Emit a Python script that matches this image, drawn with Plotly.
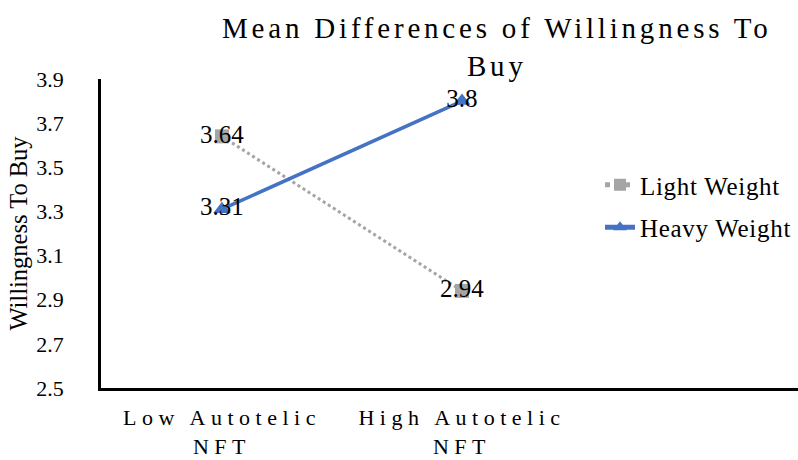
import plotly.graph_objects as go

categories = ["Low Autotelic<br>NFT", "High Autotelic<br>NFT"]
light_weight = [3.64, 2.94]
heavy_weight = [3.31, 3.8]
y_ticks = [2.5, 2.7, 2.9, 3.1, 3.3, 3.5, 3.7, 3.9]

SERIF = "Liberation Serif, Times New Roman, serif"
x_pos = list(range(len(categories)))


def spaced(s, px=3):
    return "<br>".join(f"<span style='letter-spacing:{px}px'>{part}</span>" for part in s.split("<br>"))


fig = go.Figure()
fig.add_trace(go.Scatter(
    x=x_pos, y=light_weight, name=spaced("Light Weight", 0.7), legendgroup="light",
    mode="lines+markers+text",
    line=dict(color="#A5A5A5", width=3, dash="dot"),
    marker=dict(symbol="square", size=14, color="#A5A5A5"),
    text=[f"{v:g}" for v in light_weight], textposition="middle center",
    textfont=dict(family=SERIF, size=25, color="black"),
))
fig.add_trace(go.Scatter(
    x=x_pos, y=heavy_weight, name=spaced("Heavy Weight", 0.7), legendgroup="heavy",
    mode="lines+markers+text",
    line=dict(color="#4472C4", width=3.5),
    marker=dict(symbol="triangle-up", size=15, color="#4472C4"),
    text=[f"{v:g}" for v in heavy_weight], textposition="middle center",
    textfont=dict(family=SERIF, size=25, color="black"),
))

# chart title, centred above the plot area
fig.add_annotation(
    text=spaced("Mean Differences of Willingness To<br>Buy", 3.8),
    xref="paper", yref="paper", x=(497 - 101) / 697, y=(388 - 47) / 309,
    xanchor="center", yanchor="middle", showarrow=False,
    font=dict(family=SERIF, size=29, color="black"),
)

fig.update_layout(
    width=798, height=460,
    margin=dict(l=101, r=0, t=79, b=72),
    paper_bgcolor="white", plot_bgcolor="white",
    font=dict(family=SERIF, size=22, color="black"),
    showlegend=True,
    legend=dict(
        x=(600 - 101) / 697, xanchor="left",
        y=(388 - 162) / 309, yanchor="top",
        font=dict(family=SERIF, size=25, color="black"),
        bgcolor="rgba(0,0,0,0)", tracegroupgap=7,
        itemsizing="constant",
    ),
    xaxis=dict(
        range=[-0.504, 2.4], tickvals=x_pos,
        ticktext=[spaced(c, 5.5) for c in categories],
        showline=True, linecolor="black", linewidth=2.5,
        showgrid=False, zeroline=False,
        ticks="outside", ticklen=8, tickcolor="rgba(0,0,0,0)",
        tickfont=dict(family=SERIF, size=22),
    ),
    yaxis=dict(
        range=[2.5, 3.9], tickvals=y_ticks,
        ticktext=[f"{v:.1f}" for v in y_ticks],
        showline=True, linecolor="black", linewidth=2.5,
        showgrid=False, zeroline=False, ticks="",
        tickfont=dict(family=SERIF, size=22), ticklabelstandoff=30,
        title=dict(text="Willingness To Buy", font=dict(family=SERIF, size=24.5), standoff=2),
    ),
)

fig.write_html("out.html")
